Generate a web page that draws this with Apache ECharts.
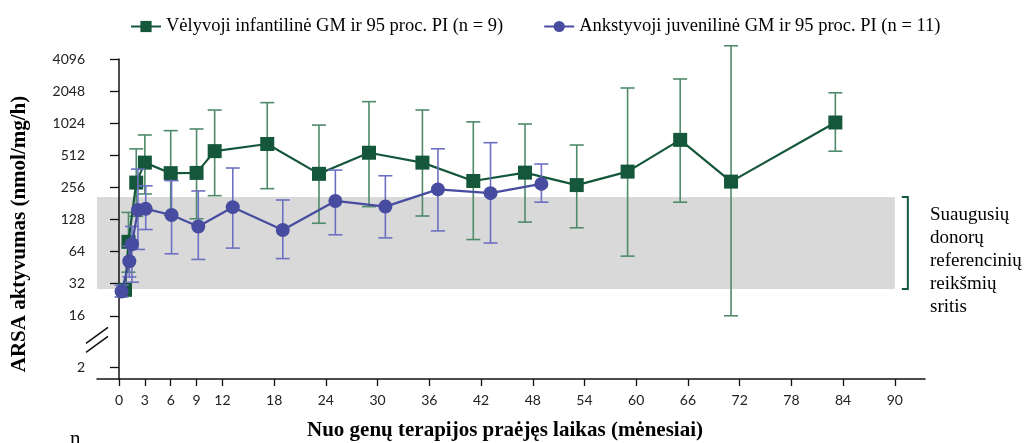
<!DOCTYPE html>
<html><head><meta charset="utf-8">
<script src="https://cdn.jsdelivr.net/npm/echarts@6/dist/echarts.min.js"></script>
<style>html,body{margin:0;padding:0;background:#fff}#c{width:1028px;height:443px}</style>
</head><body><div id="c"></div>
<script>
// ---- data ----
const nameLate = 'Vėlyvoji infantilinė GM ir 95 proc. PI (n = 9)';
const nameEarly = 'Ankstyvoji juvenilinė GM ir 95 proc. PI (n = 11)';

const monthsLate = [0.7, 1.1, 2.0, 3.0, 6.0, 9.0, 11.1, 17.2, 23.2, 29.0, 35.2, 41.1, 47.1, 53.1, 59.0, 65.1, 71.0, 83.1];
const gmLate     = [28, 79, 284, 437, 348, 350, 560, 653, 343, 541, 437, 294, 352, 269, 360, 714, 290, 1040];
const loLate     = [25, 41, 137, 222, 140, 130, 214, 249, 118, 169, 138, 83, 121, 107, 58, 186, 16, 559];
const hiLate     = [31, 149, 588, 794, 872, 904, 1360, 1596, 983, 1630, 1361, 1054, 1006, 639, 2190, 2660, 5450, 1975];

const monthsEarly = [0.3, 1.2, 1.5, 2.2, 3.1, 6.1, 9.2, 13.2, 19.0, 25.1, 30.9, 37.0, 43.1, 49.0];
const gmEarly     = [27, 52, 75, 157, 161, 141, 110, 167, 102, 191, 169, 245, 226, 276];
const loEarly     = [24, 37, 33, 67, 103, 61, 54, 69, 55, 92, 86, 100, 77, 186];
const hiEarly     = [31, 72, 110, 380, 265, 296, 237, 389, 195, 372, 329, 589, 672, 424];

const refRange = [28.5, 208];       // adult donor reference range
const refMonthEnd = 90;
const xTicks = [0, 3, 6, 9, 12, 18, 24, 30, 36, 42, 48, 54, 60, 66, 72, 78, 84, 90];
const yTicks = [2, 16, 32, 64, 128, 256, 512, 1024, 2048, 4096];
const noteLines = ['Suaugusių', 'donorų', 'referencinių', 'reikšmių', 'sritis'];
const xTitle = 'Nuo genų terapijos praėjęs laikas (mėnesiai)';
const yTitle = 'ARSA aktyvumas (nmol/mg/h)';

// ---- broken log2 scale (compressed below 16) ----
const K = 0.532;
const f = v => v >= 16 ? Math.log2(v) : 4 - (4 - Math.log2(v)) * K;
const finv = p => p >= 4 ? Math.pow(2, p) : Math.pow(2, 4 - (4 - p) / K);

const xMin = -2.55, xMax = 93.5;
const yMin = 2.03, yMax = 12;

const GREEN = '#15573a', GREEN_ERR = '#4f8a6a';
const BLUE = '#474ca0', BLUE_ERR = '#6c70c0';

function errSeries(months, lo, hi, color, z) {
  return {
    type: 'custom', z: z, silent: true, clip: false,
    data: months.map((m, i) => [m, f(lo[i]), f(hi[i])]),
    encode: { x: 0, y: [1, 2] },
    renderItem(params, api) {
      const a = api.coord([api.value(0), api.value(1)]);
      const b = api.coord([api.value(0), api.value(2)]);
      const hw = 7;
      const st = { stroke: color, lineWidth: 1.6 };
      return { type: 'group', children: [
        { type: 'line', shape: { x1: a[0], y1: a[1], x2: b[0], y2: b[1] }, style: st },
        { type: 'line', shape: { x1: a[0] - hw, y1: a[1], x2: a[0] + hw, y2: a[1] }, style: st },
        { type: 'line', shape: { x1: b[0] - hw, y1: b[1], x2: b[0] + hw, y2: b[1] }, style: st }
      ]};
    }
  };
}

const chart = echarts.init(document.getElementById('c'), null, { renderer: 'canvas' });
const axisFont = { fontFamily: 'Lato', fontSize: 14, color: '#222' };

chart.setOption({
  animation: false,
  backgroundColor: '#fff',
  grid: { left: 97, right: 103, top: 59, bottom: 64 },
  legend: {
    data: [nameLate, nameEarly], left: 125, top: 12,
    itemWidth: 30, itemHeight: 14, itemGap: 40,
    textStyle: { fontFamily: 'Liberation Serif', fontSize: 18.5, color: '#000' }
  },
  xAxis: {
    type: 'value', min: xMin, max: xMax,
    axisLine: { show: true, lineStyle: { color: '#111', width: 1.5 } },
    axisTick: { show: true, length: 7, customValues: xTicks, lineStyle: { color: '#111', width: 1.3 } },
    axisLabel: { customValues: xTicks, margin: 14, ...axisFont },
    splitLine: { show: false }
  },
  yAxis: {
    type: 'value', min: yMin, max: yMax,
    axisLine: { show: true, lineStyle: { color: '#111', width: 1.5 } },
    axisTick: { show: true, length: 9, customValues: yTicks.map(f), lineStyle: { color: '#111', width: 1.3 } },
    axisLabel: { customValues: yTicks.map(f), margin: 12, ...axisFont,
      formatter: p => String(Math.round(finv(p))) },
    splitLine: { show: false }
  },
  series: [
    {
      type: 'custom', z: 0, silent: true, clip: false,
      data: [[xMin, refMonthEnd, f(refRange[0]), f(refRange[1])]],
      encode: { x: [0, 1], y: [2, 3] },
      renderItem(params, api) {
        const tl = api.coord([api.value(0), api.value(3)]);
        const br = api.coord([api.value(1), api.value(2)]);
        const bx = br[0] + 7, vx = br[0] + 13;
        return { type: 'group', children: [
          { type: 'rect', shape: { x: tl[0], y: tl[1], width: br[0] - tl[0], height: br[1] - tl[1] },
            style: { fill: '#d9d9d9' } },
          { type: 'polyline', shape: { points: [[bx, tl[1]], [vx, tl[1]], [vx, br[1]], [bx, br[1]]] },
            style: { stroke: GREEN, lineWidth: 2, fill: null } }
        ]};
      }
    },
    errSeries(monthsLate, loLate, hiLate, GREEN_ERR, 2),
    {
      name: nameLate, type: 'line', z: 3,
      data: monthsLate.map((m, i) => [m, f(gmLate[i])]),
      symbol: 'rect', symbolSize: 14,
      lineStyle: { color: GREEN, width: 2.2 },
      itemStyle: { color: GREEN }
    },
    errSeries(monthsEarly, loEarly, hiEarly, BLUE_ERR, 4),
    {
      name: nameEarly, type: 'line', z: 5,
      data: monthsEarly.map((m, i) => [m, f(gmEarly[i])]),
      symbol: 'circle', symbolSize: 14,
      lineStyle: { color: BLUE, width: 2.2 },
      itemStyle: { color: BLUE }
    }
  ]
});

// break marks, titles, notes
const bp = chart.convertToPixel({ xAxisIndex: 0, yAxisIndex: 0 }, [xMin, 3.25]);
const gr = [];
[-4.5, 4.5].forEach(d => {
  gr.push({ type: 'line', z: 100, shape: { x1: bp[0] - 11, y1: bp[1] + d + 8, x2: bp[0] + 11, y2: bp[1] + d - 8 },
    style: { stroke: '#111', lineWidth: 1.5 } });
});
gr.push({ type: 'text', x: 20, y: 234, rotation: Math.PI / 2,
  style: { text: yTitle, fontFamily: 'Liberation Serif', fontWeight: 'bold', fontSize: 21, fill: '#000',
    align: 'center', verticalAlign: 'middle' } });
gr.push({ type: 'text', x: 505, y: 431,
  style: { text: xTitle, fontFamily: 'Liberation Serif', fontWeight: 'bold', fontSize: 21, fill: '#000',
    align: 'center', verticalAlign: 'middle' } });
noteLines.forEach((t, i) => {
  gr.push({ type: 'text', x: 930, y: 215 + i * 23,
    style: { text: t, fontFamily: 'Liberation Serif', fontSize: 19, fill: '#000', align: 'left', verticalAlign: 'middle' } });
});
gr.push({ type: 'text', x: 70, y: 450,
  style: { text: 'n', fontFamily: 'Liberation Serif', fontSize: 21, fill: '#000', align: 'left', verticalAlign: 'bottom' } });
chart.setOption({ graphic: gr });
</script></body></html>
